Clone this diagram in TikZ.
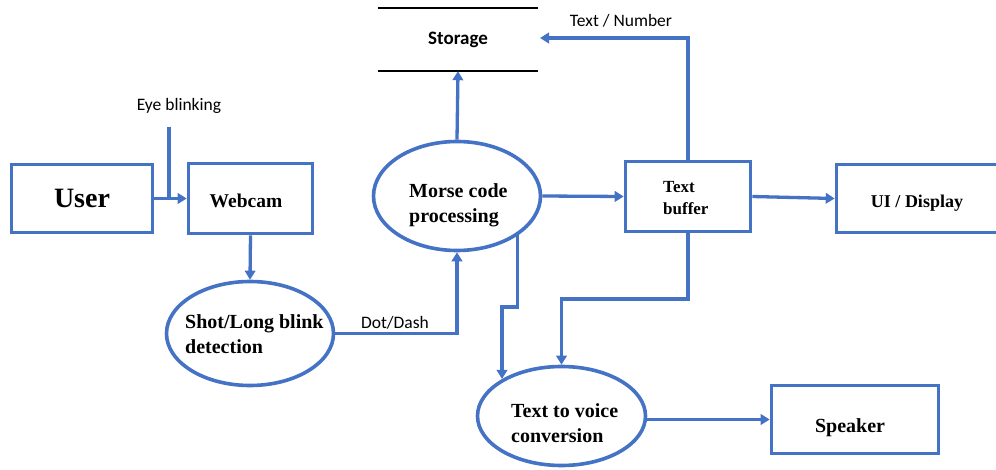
\documentclass[tikz,border=0pt]{standalone}
\usepackage{fontspec}
\setmainfont{Liberation Serif}
\newfontfamily\calib{Carlito}
\usetikzlibrary{arrows.meta,shapes.geometric}
\definecolor{oblue}{RGB}{68,114,196}
\begin{document}
\begin{tikzpicture}[x=1pt,y=-1pt,
  box/.style={draw=oblue,line width=3.6pt,rectangle,inner sep=0pt},
  ell/.style={draw=oblue,line width=3.6pt,ellipse,inner sep=0pt},
  wire/.style={draw=oblue,line width=3.3pt},
  arr/.style={wire,-{Triangle[length=9pt,width=10.5pt]}},
  btxt/.style={font=\bfseries\fontsize{20}{25}\selectfont,align=left,inner sep=0pt},
  bone/.style={font=\bfseries,inner sep=0pt,anchor=base},
  lab/.style={font=\calib\fontsize{17.5}{21}\selectfont,inner sep=0pt,anchor=base},
  storline/.style={draw=black,line width=1.8pt}
]
\useasboundingbox (0,0) rectangle (996,470);

% boxes
\node[box,minimum width=141pt,minimum height=68pt] (user) at (82,198.5) {};
\node[box,minimum width=124pt,minimum height=70pt] (webcam) at (250.5,198.5) {};
\node[box,minimum width=125pt,minimum height=70pt] (buf) at (688,196.5) {};
\node[box,minimum width=161pt,minimum height=68pt] (ui) at (917,198.5) {};
\node[box,minimum width=167pt,minimum height=68pt] (spk) at (855,419.5) {};

% ellipses
\node[ell,minimum width=167pt,minimum height=104pt] (det) at (250,333.5) {};
\node[ell,minimum width=167pt,minimum height=109pt] (morse) at (457,196) {};
\node[ell,minimum width=168pt,minimum height=99pt] (ttv) at (561.5,416) {};

% storage
\node[inner sep=0pt,minimum width=160pt,minimum height=63pt] (stor) at (458,39.5) {};
\draw[storline] (stor.north west) -- (stor.north east);
\draw[storline] (stor.south west) -- (stor.south east);

% texts
\node[bone,font=\bfseries\fontsize{28}{32}\selectfont] (usert) at (82,208) {User};
\node[bone,font=\bfseries\fontsize{19.5}{23}\selectfont] (webcamt) at (246,208) {Webcam};
\node[bone,font=\bfseries\fontsize{18}{22}\selectfont] (uit) at (917,208) {UI / Display};
\node[bone,font=\bfseries\fontsize{20}{24}\selectfont] (spkt) at (850,432) {Speaker};
\node[lab,font=\calib\bfseries\fontsize{19}{23}\selectfont] (stort) at (458,45) {Storage};
\node[btxt,anchor=base west] (morset) at (409,223) {Morse code\\processing};
\node[btxt,anchor=base west] (dett) at (185,353) {Shot/Long blink\\detection};
\node[btxt,anchor=base west] (ttvt) at (511,442) {Text to voice\\conversion};
\node[btxt,anchor=base west,font=\bfseries\fontsize{17}{22}\selectfont] (buft) at (663,215) {Text\\buffer};

% connectors
\coordinate (eyetop) at (169,127);
\draw[arr] (user.east) -- (webcam.west);
\draw[wire] (eyetop) -- (eyetop |- user.east);
\node[lab] (eyel) at (179,111) {Eye blinking};

\draw[arr] (webcam.south) -- (det.north);
\draw[arr] (det.east) -| (morse.south);
\node[lab] (dotl) at (395,329) {Dot/Dash};

\draw[arr] (morse.north) -- (stor.south);
\coordinate (sttip) at (540,38);
\draw[arr] (buf.north) |- (sttip);
\node[lab] (txtl) at (621,27) {Text / Number};

\draw[arr] (morse.east) -- (buf.west);
\draw[arr] (buf.east) -- (ui.west);

\coordinate (j1) at (688,299);
\draw[arr] (buf.south) -- (j1) -| (ttv.north);

\coordinate (j2) at (502,307);
\draw[arr] (morse.-33.5) |- (j2) -- (j2 |- ttv.148);

\draw[arr] (spk.west -| ttv.east) -- (spk.west);
\end{tikzpicture}
\end{document}
